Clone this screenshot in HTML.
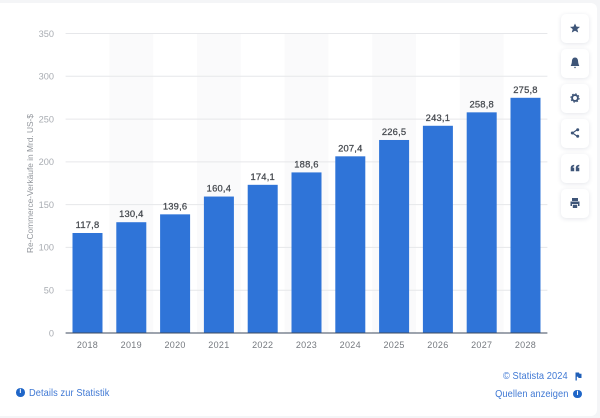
<!DOCTYPE html>
<html lang="de">
<head>
<meta charset="utf-8">
<title>Re-Commerce-Verkäufe</title>
<style>
html,body{margin:0;padding:0;width:600px;height:418px;overflow:hidden;background:#f4f5f7;font-family:"Liberation Sans",sans-serif}
#wrap{position:absolute;left:0;top:0;width:600px;height:418px;filter:blur(.3px)}
#card{position:absolute;left:0;top:3px;width:597px;height:413px;background:#fff;border-radius:0 6px 6px 0}
svg{position:absolute;left:0;top:0}
.btn{position:absolute;left:560.5px;width:28.5px;height:29px;background:#fff;border-radius:5px;box-shadow:0 1px 5px rgba(30,50,90,.12)}
.btn svg{left:7.2px;top:7.5px}
.lnk{position:absolute;font-family:"Liberation Sans",sans-serif;font-size:10.4px;letter-spacing:.1px;color:#3f78d4;white-space:nowrap;line-height:12px;transform:scaleX(.89);transform-origin:right center}
.dot{position:absolute;width:8.6px;height:8.6px;border-radius:50%;background:#1f66c8;color:#fff;font:bold 7px/8.6px "Liberation Sans",sans-serif;text-align:center}
</style>
</head>
<body>
<div id="wrap">
<div id="card"></div>
<svg id="chart" width="600" height="418"></svg>

<div class="btn" style="top:13.5px"><svg width="14" height="14" viewBox="0 0 14 14"><polygon points="7,2.500 8.500,5.600 12,5.900 9.300,8.100 10.200,11.500 7,9.700 3.800,11.500 4.700,8.100 2,5.900 5.500,5.600" fill="#3e5578"/></svg></div>
<div class="btn" style="top:48.5px"><svg width="14" height="14" viewBox="0 0 14 14"><path d="M7 1.500C5 1.500 4 3 3.900 5.500C3.800 7.500 3.200 8.500 2.700 10H11.300C10.800 8.500 10.200 7.500 10.100 5.500C10 3 9 1.500 7 1.500Z M5.900 10.900H8.100L7 12.500Z" fill="#3e5578"/></svg></div>
<div class="btn" style="top:83.5px"><svg width="14" height="14" viewBox="0 0 14 14"><circle cx="7" cy="7" r="2.900" fill="none" stroke="#3e5578" stroke-width="1.900"/><circle cx="7" cy="7" r="4.200" fill="none" stroke="#3e5578" stroke-width="0.900" stroke-dasharray="1.650 1.650"/></svg></div>
<div class="btn" style="top:118.5px"><svg width="14" height="14" viewBox="0 0 14 14"><path d="M9.500 3.500L4.500 7L9.500 10.500" fill="none" stroke="#3e5578" stroke-width="1.100"/><circle cx="9.700" cy="3.700" r="1.500" fill="#3e5578"/><circle cx="4.300" cy="7" r="1.500" fill="#3e5578"/><circle cx="9.700" cy="10.300" r="1.500" fill="#3e5578"/></svg></div>
<div class="btn" style="top:153.5px"><svg width="14" height="14" viewBox="0 0 14 14"><path d="M2.700 10.200V7C2.700 5.200 3.800 4.100 6.200 3.800V5.200C5.200 5.400 4.700 5.800 4.700 6.600H6.200V10.200Z M7.800 10.200V7C7.800 5.200 8.900 4.100 11.300 3.800V5.200C10.300 5.400 9.800 5.800 9.800 6.600H11.300V10.200Z" fill="#3e5578"/></svg></div>
<div class="btn" style="top:188.5px"><svg width="14" height="14" viewBox="0 0 14 14"><path d="M4 2H10V5H4Z M2.500 5.500H11.500V10H10V8H4V10H2.500Z M4.800 8.800H9.200V12H4.800Z" fill="#3e5578"/></svg></div>

<div class="dot" style="left:16px;top:388.2px">i</div>
<div class="lnk" style="left:29px;top:387.5px;transform-origin:left center">Details zur Statistik</div>
<div class="lnk" style="right:32px;top:371px">© Statista 2024</div>
<svg style="left:574px;top:371px" width="10" height="11" viewBox="0 0 10 11"><path d="M1.500 1.500H5L5.500 2.800H7.500V7H4.500L4 5.800H2.800V9.500H1.500Z" fill="#1f5fb8"/></svg>
<div class="lnk" style="right:32px;top:389px">Quellen anzeigen</div>
<div class="dot" style="left:573.2px;top:389.700px">i</div>
</div>

<script>
const categories = ['2018','2019','2020','2021','2022','2023','2024','2025','2026','2027','2028'];
const seriesValues = [117.8,130.4,139.6,160.4,174.1,188.6,207.4,226.5,243.1,258.8,275.8];
const valueLabels = ['117,8','130,4','139,6','160,4','174,1','188,6','207,4','226,5','243,1','258,8','275,8'];
const yTicks = [0,50,100,150,200,250,300,350];
const yAxisTitle = 'Re-Commerce-Verkäufe in Mrd. US-$';

const svg = document.getElementById('chart');
const NS = 'http://www.w3.org/2000/svg';
const plot = {left: 65.6, right: 547.4, top: 33.5, bottom: 333, max: 350};
const band = (plot.right - plot.left) / categories.length;
const barWidth = 30;
const barTopInset = 0.8;
const fontStack = '"Liberation Sans",sans-serif';
const xScale = i => plot.left + band * i + band / 2;
const yScale = v => plot.bottom - (v / plot.max) * (plot.bottom - plot.top);

function make(tag, attrs, text) {
  const el = document.createElementNS(NS, tag);
  for (const k in attrs) el.setAttribute(k, attrs[k]);
  if (text !== undefined) el.textContent = text;
  svg.appendChild(el);
  return el;
}

categories.forEach((c, i) => {
  if (i % 2 === 1) {
    const stripe = make('rect', {x: plot.left + band * i, y: plot.top, width: band, height: plot.bottom - plot.top, fill: '#fafafb'});
    
    
  }
});

yTicks.forEach(t => {
  if (t > 0) {
    const grid = make('line', {x1: plot.left, x2: plot.right, y1: yScale(t), y2: yScale(t), stroke: '#e6e7ea', 'stroke-width': 1});
    
    
  }
  const label = make('text', {x: 54, y: yScale(t) + 3.3, 'text-anchor': 'end', 'font-size': 9.2, 'letter-spacing': 0, fill: '#a8acb2', 'font-family': fontStack}, String(t));
  
  
});

categories.forEach((c, i) => {
  const v = seriesValues[i];
  const top = yScale(v) + barTopInset;
  const bar = make('rect', {x: xScale(i) - barWidth / 2, y: top, width: barWidth, height: plot.bottom - top, fill: '#2f74d8'});
  
  
  const val = make('text', {x: xScale(i), y: top - 5, 'text-anchor': 'middle', 'font-size': 9.4, 'letter-spacing': 0.2, fill: '#44484e', stroke: '#44484e', 'stroke-width': 0.25, 'font-family': fontStack}, valueLabels[i]);
  
  
  const xl = make('text', {x: xScale(i), y: 348, 'text-anchor': 'middle', 'font-size': 9, 'letter-spacing': 0.3, fill: '#75797f', 'font-family': fontStack}, c);
  
  
});

const axis = make('line', {x1: plot.left, x2: plot.right, y1: plot.bottom, y2: plot.bottom, stroke: '#3c4a5c', 'stroke-width': 1});



const title = make('text', {transform: 'translate(33,183.5) rotate(-90)', 'text-anchor': 'middle', 'font-size': 8.4, textLength: 139, lengthAdjust: 'spacing', fill: '#92969c', 'font-family': fontStack}, yAxisTitle);


</script>
</body>
</html>
